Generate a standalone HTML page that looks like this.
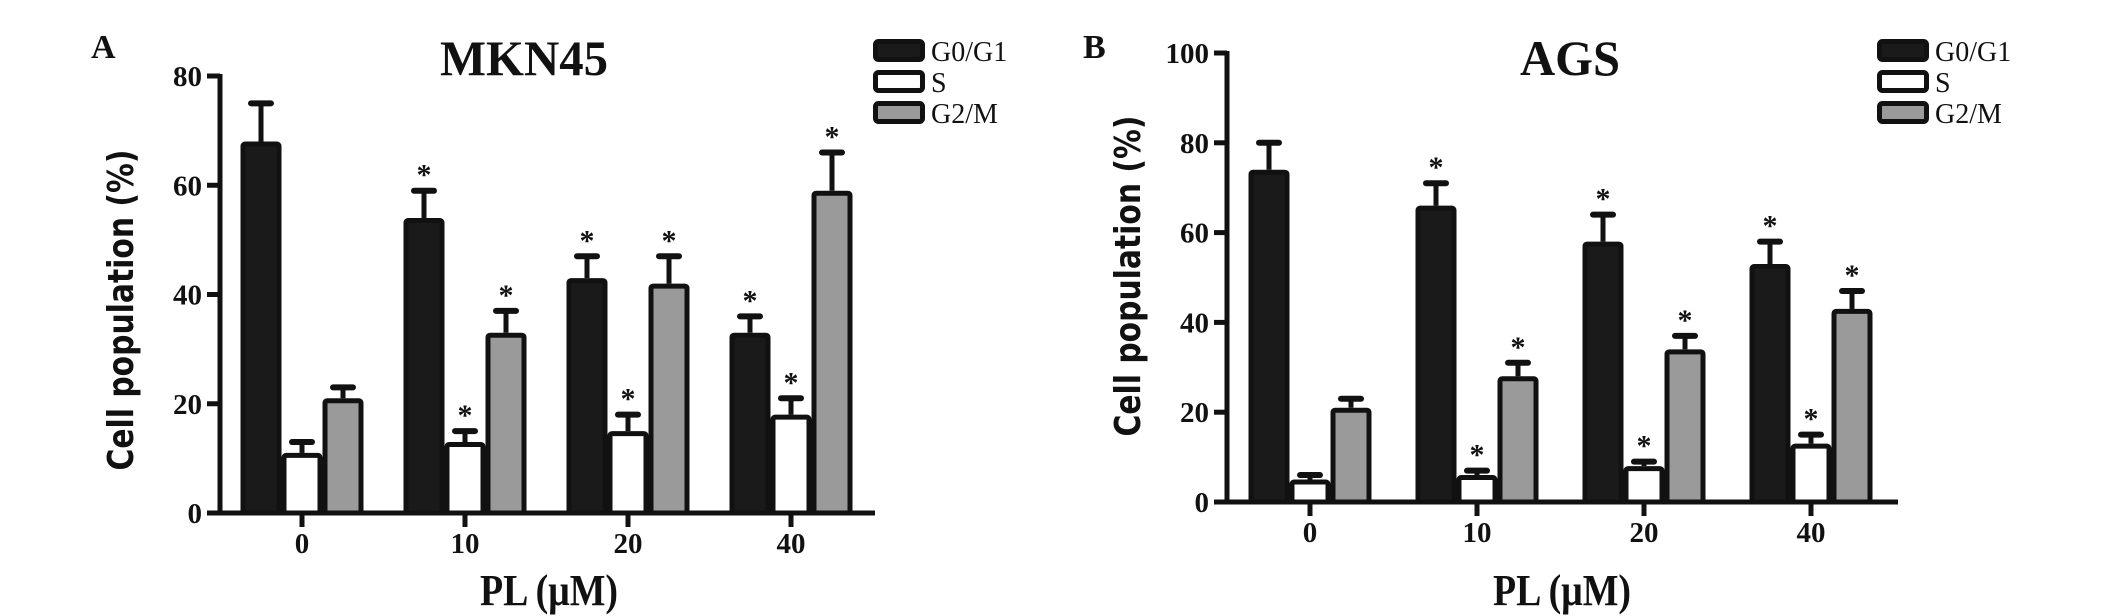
<!DOCTYPE html>
<html><head><meta charset="utf-8"><style>
html,body{margin:0;padding:0;background:#fff;}
svg{display:block;}
text{font-family:"Liberation Serif",serif;fill:#111;}
</style></head><body>
<svg id="fig" width="2126" height="616" viewBox="0 0 2126 616" xmlns="http://www.w3.org/2000/svg"></svg>
<script>
// Panel A (MKN45)
const categoriesA = ["0","10","20","40"];
const g0A = [68,54,43,33];
const g0ErrA = [7,5,4,3];
const sA = [11,13,15,18];
const sErrA = [2,2,3,3];
const g2A = [21,33,42,59];
const g2ErrA = [2,4,5,7];
const yTicksA = [0,20,40,60,80];
const starsA = [[false,true,true,true],[false,true,true,true],[false,true,true,true]];
// Panel B (AGS)
const categoriesB = ["0","10","20","40"];
const g0B = [74,66,58,53];
const g0ErrB = [6,5,6,5];
const sB = [5,6,8,13];
const sErrB = [1,1,1,2];
const g2B = [21,28,34,43];
const g2ErrB = [2,3,3,4];
const yTicksB = [0,20,40,60,80,100];
const starsB = [[false,true,true,true],[false,true,true,true],[false,true,true,true]];
const seriesNames = ["G0/G1","S","G2/M"];

const NS="http://www.w3.org/2000/svg";
const svg=document.getElementById('fig');
function mk(tag,attrs,parent){const e=document.createElementNS(NS,tag);for(const k in attrs)e.setAttribute(k,attrs[k]);(parent||svg).appendChild(e);return e;}

function panel(cfg){
  const g=mk('g',{});
  
  
  const y=v=>cfg.y0-(v/cfg.ymax)*(cfg.y0-cfg.yTop);
  const x=i=>cfg.x0tick+i*cfg.step;
  // bars
  const fills=["#1a1a1a","#ffffff","#9a9a9a"];
  const vals=[cfg.g0,cfg.s,cfg.g2], errs=[cfg.g0e,cfg.se,cfg.g2e];
  const bw=41;
  for(let si=0;si<3;si++){
    for(let i=0;i<cfg.cats.length;i++){
      const cx=x(i)+(si-1)*bw;
      const top=y(vals[si][i]+errs[si][i]);
      const ey=mk('line',{x1:cx,x2:cx,y1:y(vals[si][i]),y2:top,stroke:"#111","stroke-width":5},g);
      
      
      const cap=mk('line',{x1:cx-10,x2:cx+10,y1:top,y2:top,stroke:"#111","stroke-width":6,"stroke-linecap":"round"},g);
      
      
      const r=mk('rect',{x:cx-bw/2+2.5,y:y(vals[si][i])+2.5,width:bw-5,height:Math.max(0,cfg.y0-y(vals[si][i])-2.5),fill:fills[si],stroke:"#111","stroke-width":5,rx:2},g);
      
      
      if(cfg.stars[si][i]){
        const t=mk('text',{x:cx,y:top-6,"text-anchor":"middle","font-size":30,"font-weight":"bold"},g);
        t.textContent="*";
        
        
      }
    }
  }
  // axes
  const ya=mk('line',{x1:cfg.xAxis,x2:cfg.xAxis,y1:cfg.yTop-2,y2:cfg.y0+2,stroke:"#111","stroke-width":5},g);
  
  
  const xa=mk('line',{x1:cfg.xAxis-13,x2:cfg.xEnd,y1:cfg.y0,y2:cfg.y0,stroke:"#111","stroke-width":5},g);
  
  
  cfg.yt.forEach(v=>{
    if(v!==0){mk('line',{x1:cfg.xAxis-13,x2:cfg.xAxis,y1:y(v),y2:y(v),stroke:"#111","stroke-width":5},g);}
    const t=mk('text',{x:cfg.xAxis-18,y:y(v)+10,"text-anchor":"end","font-size":29,"font-weight":"bold"},g);
    t.textContent=v;
    
    
  });
  cfg.cats.forEach((c,i)=>{
    mk('line',{x1:x(i),x2:x(i),y1:cfg.y0,y2:cfg.y0+14,stroke:"#111","stroke-width":5},g);
    const t=mk('text',{x:x(i),y:cfg.y0+40,"text-anchor":"middle","font-size":29,"font-weight":"bold"},g);
    t.textContent=c;
    
    
  });
  // titles
  const tt=mk('text',{x:cfg.titleX,y:75,"text-anchor":"middle","font-size":50,"font-weight":"bold",textLength:cfg.titleW,lengthAdjust:"spacingAndGlyphs"},g);
  tt.textContent=cfg.title;
  
  
  const pl=mk('text',{x:cfg.labelX,y:58,"font-size":34,"font-weight":"bold"},g);
  pl.textContent=cfg.letter;
  
  
  const xt=mk('text',{x:cfg.xTitleX,y:605,"text-anchor":"middle","font-size":44,"font-weight":"bold",textLength:138,lengthAdjust:"spacingAndGlyphs"},g);
  xt.textContent="PL (μM)";
  
  
  const yt=mk('text',{x:0,y:0,"text-anchor":"middle","font-size":36,"font-weight":"bold",textLength:321,lengthAdjust:"spacingAndGlyphs",style:'font-family:"DejaVu Sans","Liberation Sans",sans-serif',transform:`translate(${cfg.yTitleX},${cfg.yTitleY}) rotate(-90)`},g);
  yt.textContent="Cell population (%)";
  
  
  // legend
  const lfills=["#1a1a1a","#ffffff","#9a9a9a"];
  const rows=[39,70,101];
  seriesNames.forEach((n,i)=>{
    const r=mk('rect',{x:cfg.legX+2.5,y:rows[i]+2.5,width:47,height:18,fill:lfills[i],stroke:"#111","stroke-width":5,rx:3},g);
    
    
    const t=mk('text',{x:cfg.legX+58,y:rows[i]+22,"font-size":28},g);
    t.textContent=n;
    
    
  });
}

panel({id:'mkn45',cats:categoriesA,g0:g0A,g0e:g0ErrA,s:sA,se:sErrA,g2:g2A,g2e:g2ErrA,yt:yTicksA,stars:starsA,
  ymax:80,y0:513,yTop:76,xAxis:220,xEnd:875,x0tick:302,step:163,title:"MKN45",titleX:524,titleW:168,
  letter:"A",labelX:91,xTitleX:549,yTitleX:133,yTitleY:310,legX:873});
panel({id:'ags',cats:categoriesB,g0:g0B,g0e:g0ErrB,s:sB,se:sErrB,g2:g2B,g2e:g2ErrB,yt:yTicksB,stars:starsB,
  ymax:100,y0:502,yTop:53,xAxis:1227,xEnd:1898,x0tick:1310,step:167,title:"AGS",titleX:1570,titleW:100,
  letter:"B",labelX:1083,xTitleX:1562,yTitleX:1140,yTitleY:276,legX:1877});
</script>
</body></html>
